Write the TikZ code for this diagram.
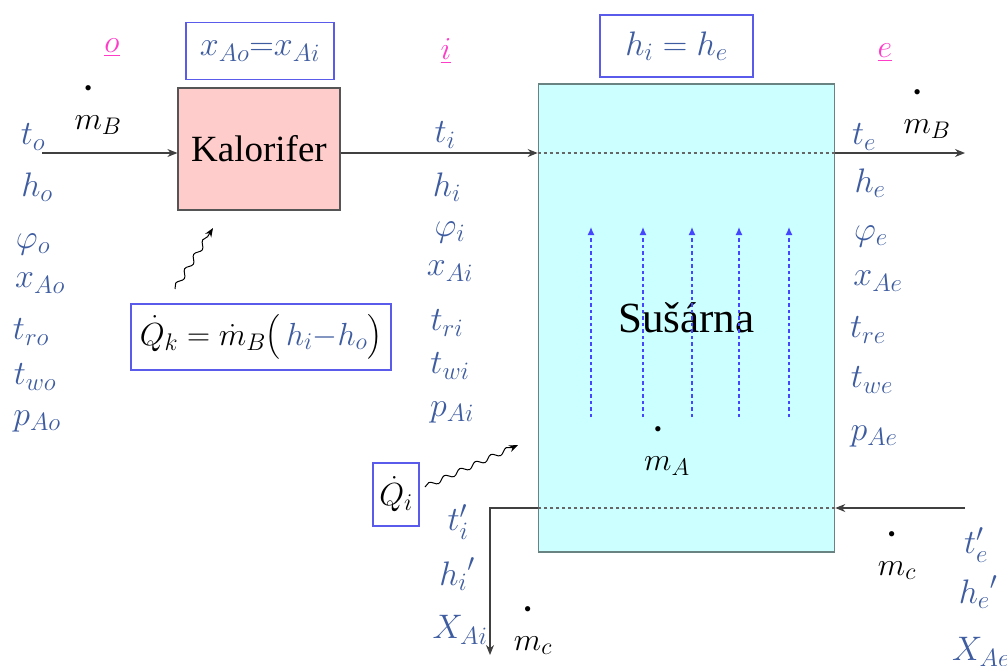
\RequirePackage{fix-cm}
\documentclass[tikz,border=0pt]{standalone}
\usepackage{amsmath}
\usepackage{fontspec}
\setmainfont{Liberation Serif}
\usepackage{xcolor}
\usepackage{tikz}
\usetikzlibrary{arrows.meta, decorations.pathmorphing}
\DeclareMathSizes{34}{34}{25}{19}
\DeclareMathSizes{32}{32}{24}{18}
\definecolor{varblue}{RGB}{62,92,160}
\definecolor{statepink}{RGB}{255,60,200}
\definecolor{eqblue}{RGB}{90,90,235}
\definecolor{heaterpink}{RGB}{255,204,204}
\definecolor{dryercyan}{RGB}{204,255,255}
\definecolor{boxgray}{RGB}{85,85,85}
\definecolor{dryeredge}{RGB}{105,130,130}
\definecolor{arrowblue}{RGB}{70,70,255}
\newcommand{\flowdot}[1]{\overset{\raisebox{15pt}{\fontsize{22}{22}\selectfont\textbullet}}{m}_{#1}}
\tikzset{
    heater/.style={rectangle, minimum width=162, minimum height=122, text centered, draw=boxgray, line width=1.2pt, fill=heaterpink, font=\fontsize{37}{40}\selectfont},
    dryer/.style={rectangle, minimum width=296, minimum height=468, text centered, draw=dryeredge, line width=1.6pt, fill=dryercyan, font=\fontsize{43}{46}\selectfont},
    eqbox/.style={rectangle, draw=eqblue, line width=1.2pt, fill=white, inner sep=0pt},
    var/.style={text=varblue, inner sep=0pt, font=\fontsize{34}{40}\selectfont},
    mass/.style={inner sep=0pt, anchor=base, font=\fontsize{32}{36}\selectfont},
    state/.style={text=statepink, inner sep=0pt, font=\fontsize{32}{36}\selectfont},
    arrow/.style={line width=1.2pt, draw=black!75, -{Stealth[length=10pt,width=8pt]}},
    inner/.style={dashed, line width=1.2pt, draw=black!60},
    updraft/.style={dash pattern=on 3.5pt off 3pt, line width=1.2pt, draw=arrowblue, -{Latex[length=8pt,width=7pt]}},
    heat/.style={line width=1pt, -{Stealth[length=9pt,width=7pt]}, decorate, decoration={snake, amplitude=2.5pt, segment length=17pt, post length=6pt}}
}
\begin{document}
\begin{tikzpicture}[x=1pt, y=-1pt]
    \useasboundingbox (0,0) rectangle (1007,665);

    % main units
    \node (heater) [heater] at (259,149) {Kalorifer};
    \node (dryer) [dryer] at (686.5,318) {Sušárna};
    \foreach \x in {591,643,692,739,789}
        \draw [updraft] (\x,417) -- (\x,227);

    % balance boxes
    \node (xeq) [eqbox, minimum width=148, minimum height=57, var] at (260,51) {$x_{Ao}{=}x_{Ai}$};
    \node (heq) [eqbox, minimum width=153, minimum height=62, var] at (676.5,46) {$h_i = h_e$};
    \node (qk) [eqbox, minimum width=260, minimum height=66, font=\fontsize{32}{36}\selectfont] at (261,337) {$\dot{Q}_k = \dot{m}_B\bigl(\,\textcolor{varblue}{h_i{-}h_o}\bigr)$};
    \node (qi) [eqbox, minimum width=46, minimum height=63, font=\fontsize{32}{36}\selectfont] at (396,494.5) {$\dot{Q}_i$};

    % state points
    \node (o) [state] at (112,48) {$\underline{o}$};
    \node (i) [state] at (446,51) {$\underline{i}$};
    \node (e) [state] at (885,53) {$\underline{e}$};

    % air state o
    \node (to) [var] at (33,137) {$t_o$};
    \node (ho) [var] at (37,187) {$h_o$};
    \node (phio) [var] at (33,244) {$\varphi_o$};
    \node (xo) [var] at (40,283) {$x_{Ao}$};
    \node (tro) [var] at (31,332) {$t_{ro}$};
    \node (two) [var] at (35,377) {$t_{wo}$};
    \node (po) [var] at (37,421) {$p_{Ao}$};

    % air state i
    \node (ti) [var] at (445,135) {$t_i$};
    \node (hi) [var] at (447,187) {$h_i$};
    \node (phii) [var] at (450,232) {$\varphi_i$};
    \node (xi) [var] at (450,271) {$x_{Ai}$};
    \node (tri) [var] at (447,323) {$t_{ri}$};
    \node (twi) [var] at (450,366) {$t_{wi}$};
    \node (pi) [var] at (452,412) {$p_{Ai}$};

    % air state e
    \node (te) [var] at (864,137) {$t_e$};
    \node (he) [var] at (870,183) {$h_e$};
    \node (phie) [var] at (871,236) {$\varphi_e$};
    \node (xe) [var] at (878,281) {$x_{Ae}$};
    \node (tre) [var] at (868,330) {$t_{re}$};
    \node (twe) [var] at (872,380) {$t_{we}$};
    \node (pe) [var] at (874,436) {$p_{Ae}$};

    % material
    \node (tim) [var] at (458,522) {$t_i'$};
    \node (him) [var] at (457,574) {${h_i}'$};
    \node (Xi) [var] at (460,630) {$X_{Ai}$};
    \node (tem) [var] at (976,545) {$t_e'$};
    \node (hem) [var] at (978,592) {${h_e}'$};
    \node (Xe) [var] at (981,652) {$X_{Ae}$};

    % mass flows
    \node (mbo) [mass] at (98,129) {$\flowdot{B}$};
    \node (mbe) [mass] at (927,133) {$\flowdot{B}$};
    \node (ma) [mass] at (667,470) {$\flowdot{A}$};
    \node (mci) [mass] at (533,650) {$\flowdot{c}$};
    \node (mce) [mass] at (897,575) {$\flowdot{c}$};

    % connectors
    \coordinate (airin) at (42,153);
    \coordinate (airout) at (965,153);
    \coordinate (matin) at (965,508);
    \coordinate (matout) at (490,655);
    \coordinate (qkfrom) at (175,289);
    \coordinate (qkto) at (213,228);
    \coordinate (qifrom) at (425,487);
    \coordinate (qito) at (518,445);

    \draw [arrow] (airin) -- (airin -| heater.west);
    \draw [arrow] (airin -| heater.east) -- (airin -| dryer.west);
    \draw [inner] (airin -| dryer.west) -- (airin -| dryer.east);
    \draw [arrow] (airin -| dryer.east) -- (airout);
    \draw [arrow] (matin) -- (matin -| dryer.east);
    \draw [inner] (matin -| dryer.east) -- (matin -| dryer.west);
    \draw [arrow] (matin -| dryer.west) -| (matout);
    \draw [heat] (qkfrom) -- (qkto);
    \draw [heat] (qifrom) -- (qito);
\end{tikzpicture}
\end{document}
